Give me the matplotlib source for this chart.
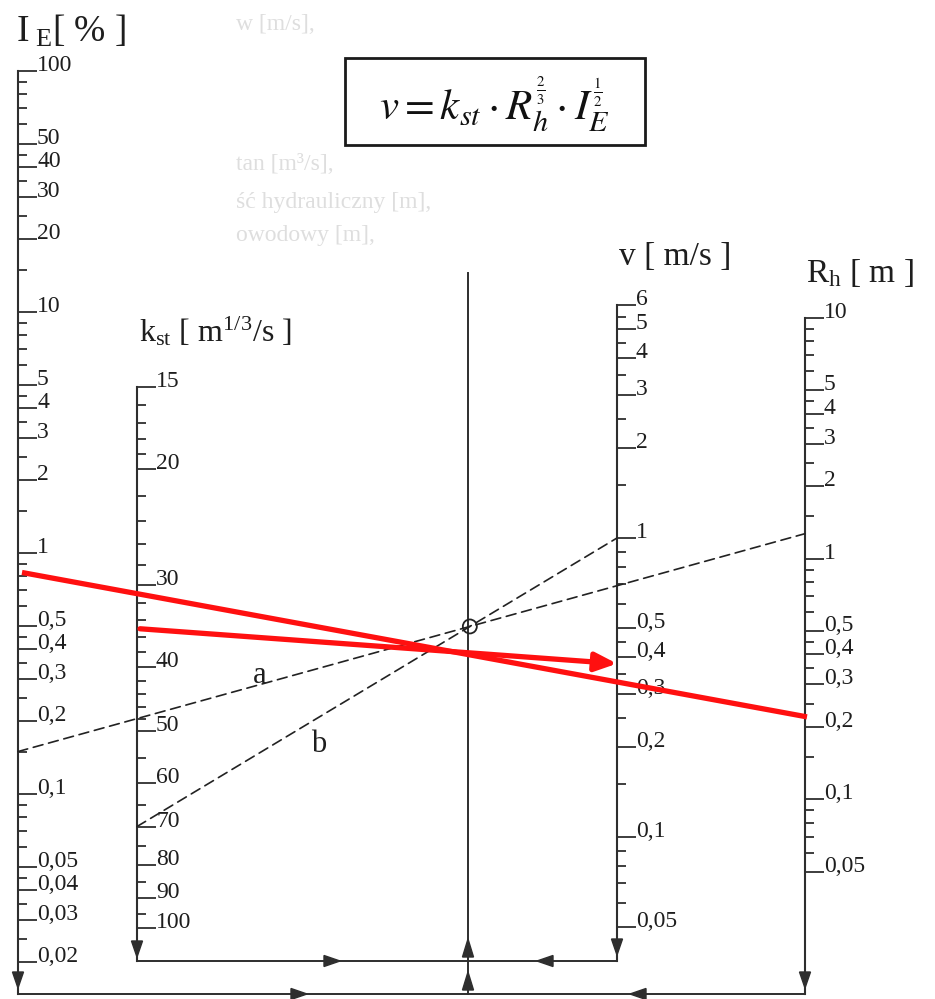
import numpy as np
import matplotlib
matplotlib.use("Agg")
import matplotlib.pyplot as plt
from matplotlib.patches import ConnectionPatch, Rectangle, Polygon, Circle
from matplotlib import transforms as mtransforms
from matplotlib.mathtext import MathTextParser
from matplotlib.font_manager import FontProperties

# ---------------- data ----------------
IE_major = [100, 50, 40, 30, 20, 10, 5, 4, 3, 2, 1, 0.5, 0.4, 0.3, 0.2, 0.1, 0.05, 0.04, 0.03, 0.02]
IE_labels = ["100", "50", "40", "30", "20", "10", "5", "4", "3", "2", "1", "0,5", "0,4", "0,3",
             "0,2", "0,1", "0,05", "0,04", "0,03", "0,02"]
IE_minor = [90, 80, 70, 60, 45, 35, 25, 15, 9, 8, 7, 6, 4.5, 3.5, 2.5, 1.5, 0.9, 0.8, 0.7, 0.6,
            0.45, 0.35, 0.25, 0.15, 0.09, 0.08, 0.07, 0.06, 0.045, 0.035, 0.025]

k_major = [15, 20, 30, 40, 50, 60, 70, 80, 90, 100]
k_labels = ["15", "20", "30", "40", "50", "60", "70", "80", "90", "100"]
k_minor = [16, 17, 18, 19, 22, 24, 26, 28, 32, 34, 36, 38, 42, 44, 46, 48, 55, 65, 75, 85, 95]

v_major = [6, 5, 4, 3, 2, 1, 0.5, 0.4, 0.3, 0.2, 0.1, 0.05]
v_labels = ["6", "5", "4", "3", "2", "1", "0,5", "0,4", "0,3", "0,2", "0,1", "0,05"]
v_minor = [5.5, 4.5, 3.5, 2.5, 1.5, 0.9, 0.8, 0.7, 0.6, 0.45, 0.35, 0.25, 0.15,
           0.09, 0.08, 0.07, 0.06]

R_major = [10, 5, 4, 3, 2, 1, 0.5, 0.4, 0.3, 0.2, 0.1, 0.05]
R_labels = ["10", "5", "4", "3", "2", "1", "0,5", "0,4", "0,3", "0,2", "0,1", "0,05"]
R_minor = [9, 8, 7, 6, 4.5, 3.5, 2.5, 1.5, 0.9, 0.8, 0.7, 0.6, 0.45, 0.35, 0.25, 0.15,
           0.09, 0.08, 0.07, 0.06]

# key example (dashed): a joins I_E with R_h, b joins k_st with v
a_IE, a_Rh = 0.15, 1.27
b_kst, b_v = 70, 1.0
# red solution lines
red_IE, red_Rh = 0.83, 0.22
red_kst, red_v = 35, 0.38

# faint text showing through from the scanned page
ghost_lines = ["w [m/s],", "tan [m³/s],", "ść hydrauliczny [m],", "owodowy [m],"]

# ---------------- layout ----------------
W, H = 935, 999
INK = "#2e2e2e"
TXT = "#1e1e1e"
plt.rcParams["font.family"] = ["Liberation Serif", "DejaVu Serif"]
plt.rcParams["mathtext.fontset"] = "custom"
plt.rcParams["mathtext.rm"] = "Liberation Serif"
plt.rcParams["mathtext.it"] = "Liberation Serif:italic"

fig = plt.figure(figsize=(W / 100, H / 100), dpi=100)
base = fig.add_axes([0, 0, 1, 1])
base.set_xlim(0, W)
base.set_ylim(H, 0)
base.axis("off")

# ghost text (very light)
ghost_pos = [(236, 30), (236, 170), (236, 208), (236, 241)]
for (gx, gy), s in zip(ghost_pos, ghost_lines):
    base.text(gx, gy, s, fontsize=17, color="#dedede", ha="left", va="baseline", zorder=0)


def make_scale(x, ref, yref, ppd, top, bot, major, labels, minor, down=False):
    """log scale drawn as a vertical nomogram axis at pixel column x"""
    s = 1 if down else -1

    def val(y):
        return ref * 10 ** (s * (y - yref) / ppd)

    ax = fig.add_axes([x / W, 1 - bot / H, 60 / W, (bot - top) / H])
    ax.set_yscale("log")
    ax.set_ylim(val(bot), val(top))
    ax.set_xlim(0, 60)
    ax.patch.set_visible(False)
    for side in ("top", "right", "bottom"):
        ax.spines[side].set_visible(False)
    ax.spines["left"].set_linewidth(1.5)
    ax.spines["left"].set_color(INK)
    ax.set_xticks([])
    ax.set_yticks(major)
    ax.set_yticks(minor, minor=True)
    ax.yaxis.set_ticks_position("left")
    ax.tick_params(axis="y", which="major", direction="in", length=13.5, width=1.3,
                   color=INK, labelleft=False)
    ax.tick_params(axis="y", which="minor", direction="in", length=6.5, width=1.3,
                   color=INK, labelleft=False)
    trans = mtransforms.offset_copy(ax.get_yaxis_transform(), fig=fig, x=19, y=0,
                                    units="dots")
    for m, lab in zip(major, labels):
        ax.text(0, m, lab, transform=trans, ha="left", va="baseline",
                fontsize=17, color=TXT)
    return ax


axIE = make_scale(18, 1, 553, 241, 71, 994, IE_major, IE_labels, IE_minor)
axK = make_scale(137, 15, 387, 657, 387, 961, k_major, k_labels, k_minor, down=True)
axV = make_scale(617, 1, 538, 299, 305, 961, v_major, v_labels, v_minor)
axR = make_scale(805, 1, 558, 241, 318, 994, R_major, R_labels, R_minor)

# axis titles
base.text(16, 42, r"I$_{\mathrm{\ E}}$[ % ]", fontsize=27, color=TXT,
          ha="left", va="baseline")
base.text(139, 341, r"k$_{\mathrm{st}}$ [ m$^{\mathrm{1/3}}$/s ]", fontsize=23,
          color=TXT, ha="left", va="baseline")
base.text(619, 265, "v [ m/s ]", fontsize=24, color=TXT, ha="left", va="baseline")
base.text(806, 282, r"R$_{\mathrm{h}}$ [ m ]", fontsize=24, color=TXT,
          ha="left", va="baseline")

# formula box
base.add_patch(Rectangle((345, 58), 300, 87, facecolor="white", lw=2.0,
                         edgecolor="#1a1a1a", zorder=2))
formula_small = (r"$v = k_{st}\cdot R_h^{\genfrac{}{}{0.8}{2}{2}{3}}\cdot "
                 r"I_E^{\genfrac{}{}{0.8}{2}{1}{2}}$")
formula_plain = r"$v = k_{st}\cdot R_h^{\frac{2}{3}}\cdot I_E^{\frac{1}{2}}$"
try:
    MathTextParser("agg").parse(formula_small, dpi=100,
                                prop=FontProperties(size=30, math_fontfamily="stix"))
    formula = formula_small
except Exception:
    formula = formula_plain
base.text(494, 104, formula, fontsize=31, ha="center", va="center", color="#111111",
          math_fontfamily="stix", zorder=3)

# central turning line and connecting frame lines
base.plot([468, 468], [273, 994], color=INK, lw=1.4)
base.plot([137, 617], [961, 961], color=INK, lw=1.4)
base.plot([18, 805], [994, 994], color=INK, lw=1.4)


def head(xt, yt, d, L=16, w=11):
    ux, uy = {"down": (0, 1), "up": (0, -1), "right": (1, 0), "left": (-1, 0)}[d]
    bx, by = xt - ux * L, yt - uy * L
    px, py = -uy * w / 2, ux * w / 2
    base.add_patch(Polygon([(xt, yt), (bx + px, by + py), (bx - px, by - py)],
                           closed=True, color=INK, zorder=5))


head(18, 988, "down")
head(137, 957, "down")
head(617, 955, "down")
head(805, 988, "down")
head(340, 961, "right")
head(537, 961, "left")
head(468, 939, "up", L=18)
head(307, 994, "right")
head(630, 994, "left")
head(468, 972, "up", L=18)

# dashed key lines a and b
dash = dict(color="#222222", lw=1.2, linestyle=(0, (6, 3.5)), zorder=6)
ca = ConnectionPatch(xyA=(0, a_IE), coordsA=axIE.transData, xyB=(0, a_Rh),
                     coordsB=axR.transData, **dash)
cb = ConnectionPatch(xyA=(0, b_kst), coordsA=axK.transData, xyB=(0, b_v),
                     coordsB=axV.transData, **dash)
fig.add_artist(ca)
fig.add_artist(cb)


def disp(ax, x, y):
    return np.array(ax.transData.transform((x, y)))


pa1, pa2 = disp(axIE, 0, a_IE), disp(axR, 0, a_Rh)
pb1, pb2 = disp(axK, 0, b_kst), disp(axV, 0, b_v)
da, db = pa2 - pa1, pb2 - pb1
t = np.cross(pb1 - pa1, db) / np.cross(da, db)
cross = base.transData.inverted().transform(pa1 + t * da)
base.add_patch(Circle(cross, 7, fill=False, lw=1.3, edgecolor="#222222", zorder=7))

base.text(253, 683, "a", fontsize=22, color=TXT, ha="left", va="baseline")
base.text(311, 752, "b", fontsize=22, color=TXT, ha="left", va="baseline")

# red solution lines
r1 = ConnectionPatch(xyA=(4, red_IE), coordsA=axIE.transData, xyB=(2, red_Rh),
                     coordsB=axR.transData, color="#ff1010", lw=3.8, zorder=8,
                     capstyle="butt")
r2 = ConnectionPatch(xyA=(3, red_kst), coordsA=axK.transData, xyB=(0, red_v),
                     coordsB=axV.transData, color="#ff1010", lw=3.8, zorder=8,
                     arrowstyle="-|>,head_length=0.65,head_width=0.28",
                     mutation_scale=20, shrinkA=0, shrinkB=0)
fig.add_artist(r1)
fig.add_artist(r2)

fig.savefig("out.png", dpi=100, facecolor="white")
